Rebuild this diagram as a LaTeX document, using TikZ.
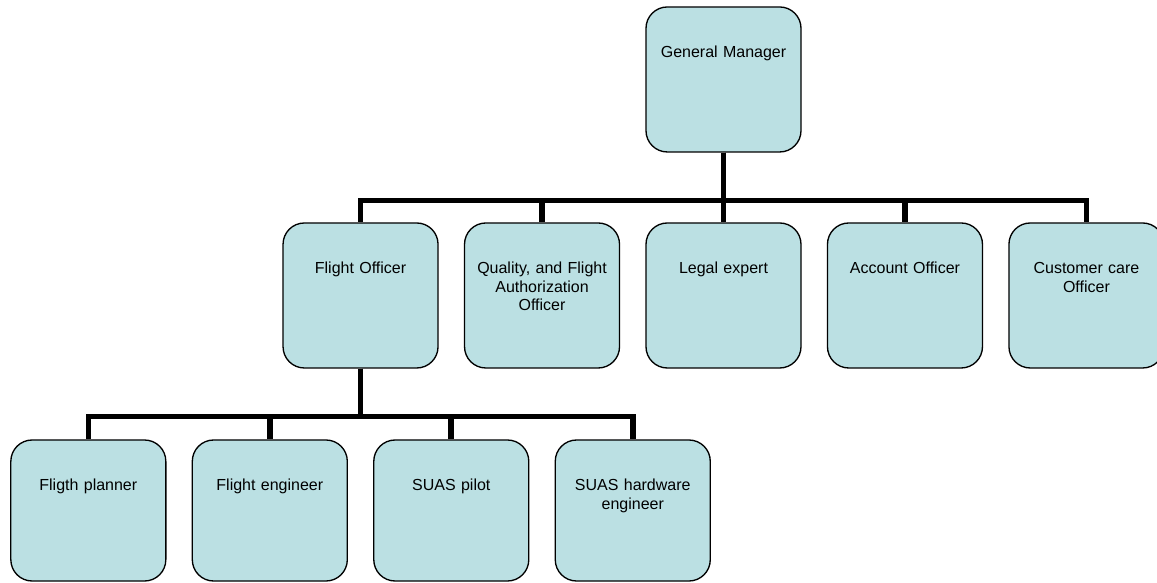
\documentclass[tikz,border=0pt]{standalone}
\usepackage{fontspec}
\setmainfont{Liberation Sans}
\usepackage{tikz}
\definecolor{unitfill}{HTML}{BBE0E3}

\begin{document}
\begin{tikzpicture}[
  level 1/.style={level distance=162pt, sibling distance=136.1pt},
  level 2/.style={level distance=161.25pt, sibling distance=136.1pt},
  every node/.style={draw, fill=unitfill, line width=1pt, rounded corners=16pt,
    minimum width=116.25pt, minimum height=108.75pt, inner sep=0pt,
    text width=112pt, align=center, text height=38pt, text depth=70.75pt,
    font=\fontsize{12}{13.8}\selectfont},
  staff/.style={minimum height=105.75pt, text depth=67.75pt},
  edge from parent/.style={draw, line width=4.2pt},
  edge from parent path={(\tikzparentnode.south) -- ++(0,-36pt) -| (\tikzchildnode.north)}
]
\useasboundingbox (-542.6pt,59.6pt) rectangle (325.1pt,-376.9pt);
\node (gm) {General Manager}
  child { node (fo) {Flight Officer}
    child { node[staff] (fp) {Fligth planner} }
    child { node[staff] (fe) {Flight engineer} }
    child { node[staff] (sp) {SUAS pilot} }
    child { node[staff] (sh) {SUAS hardware\\engineer} }
  }
  child { node (qa) {Quality, and Flight\\Authorization\\Officer} }
  child { node (le) {Legal expert} }
  child { node (ao) {Account Officer} }
  child { node (cc) {Customer care\\Officer} };
\end{tikzpicture}
\end{document}
